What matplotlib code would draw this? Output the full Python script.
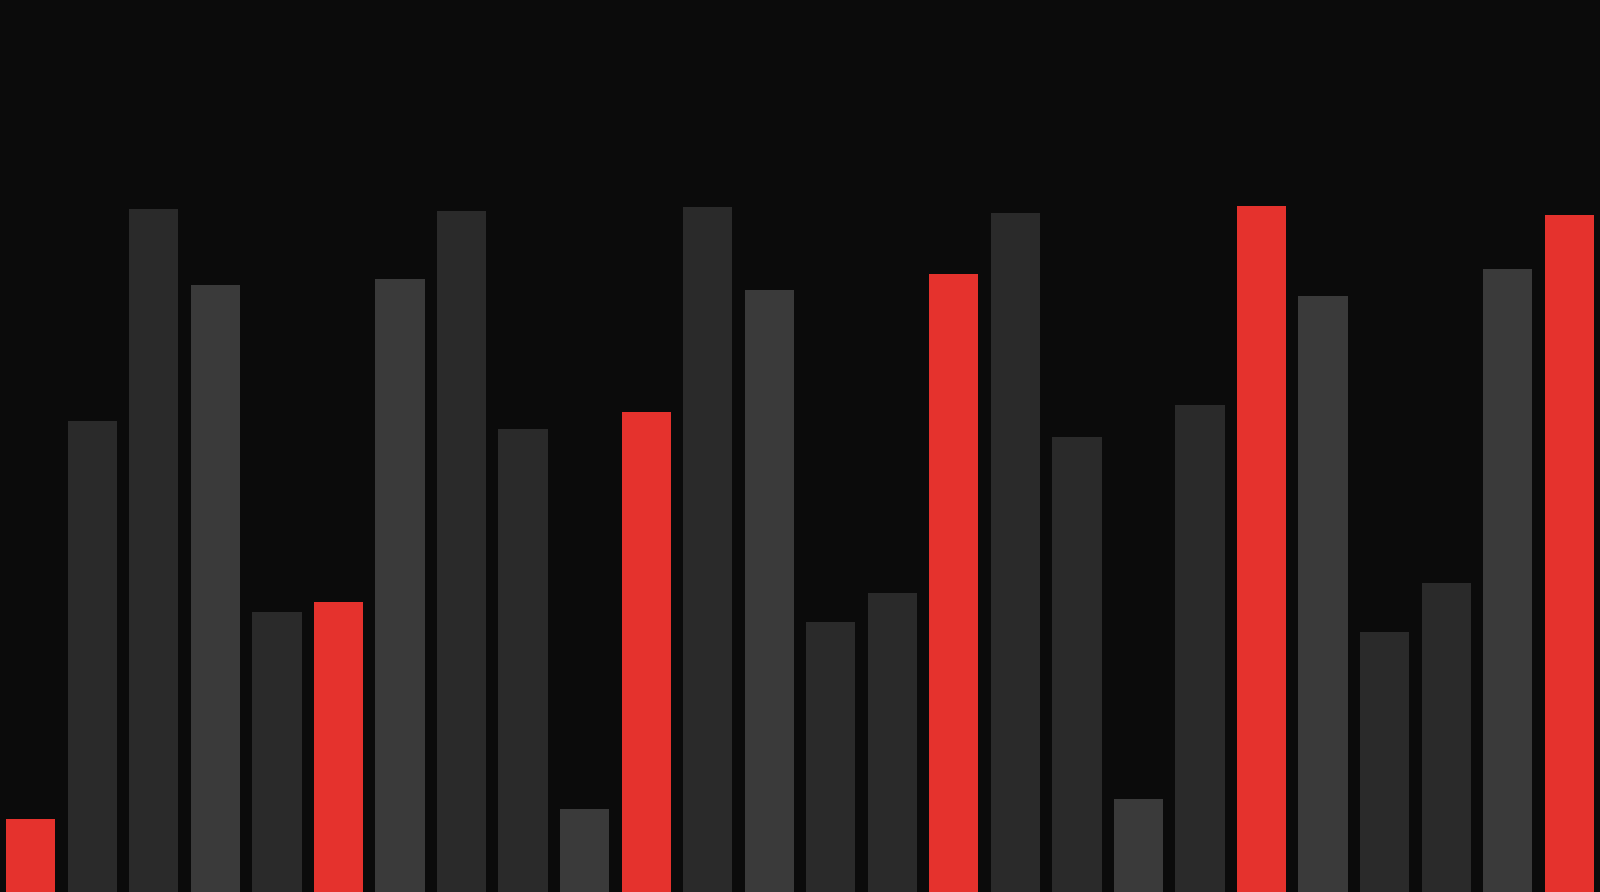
import matplotlib
matplotlib.use('Agg')
import matplotlib.pyplot as plt

# bar heights (0-100 scale)
values = [10.6, 68.7, 99.5, 88.5, 40.8, 42.3, 89.3, 99.3, 67.5, 12.1,
          69.9, 99.9, 87.8, 39.3, 43.6, 90.0, 99.0, 66.3, 13.5, 71.0,
          100.0, 86.9, 37.9, 45.0, 90.8, 98.7]
# tone of each bar: accent (red), mid (lighter grey), base (dark grey)
tones = ["accent", "base", "base", "mid", "base", "accent", "mid", "base", "base", "mid",
         "accent", "base", "mid", "base", "base", "accent", "base", "base", "mid", "base",
         "accent", "mid", "base", "base", "mid", "accent"]

palette = {"accent": "#e5322d", "mid": "#3a3a3a", "base": "#2a2a2a"}
bg = "#0b0b0b"

fig = plt.figure(figsize=(16, 8.92), dpi=100, facecolor=bg)
ax = fig.add_axes([0, 0, 1, 1])
ax.set_facecolor(bg)

x = range(len(values))
ax.bar(x, values, width=0.8, color=[palette[t] for t in tones], linewidth=0)

ax.set_xlim(-0.5, len(values) - 0.5)
ax.set_ylim(0, 130)
ax.axis("off")

fig.savefig("out.png", dpi=100, facecolor=bg)
